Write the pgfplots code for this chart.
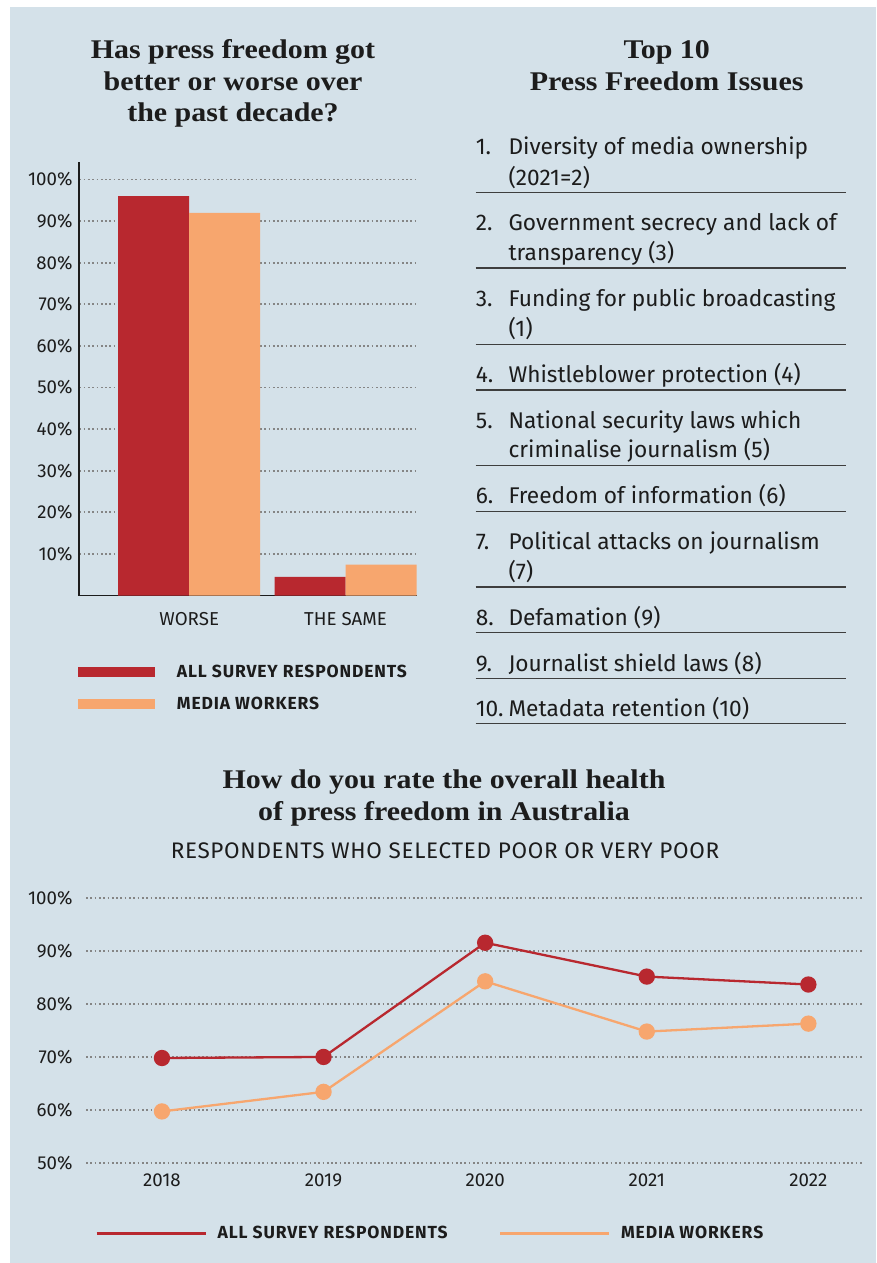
\documentclass[border=0pt]{standalone}
\usepackage{fontspec}
\setmainfont{Fira Sans}
\newfontfamily\titlefont{Liberation Serif}[FakeStretch=1.11]
\newfontfamily\legendface{Fira Sans}[LetterSpace=5]
\newfontfamily\subface{Fira Sans}[LetterSpace=3]
\usepackage{pgfplots}
\pgfplotsset{compat=1.18}
\definecolor{bg}{HTML}{D4E1E9}
\definecolor{barred}{HTML}{B8282F}
\definecolor{barorange}{HTML}{F7A66E}
\definecolor{ink}{HTML}{1C1C1C}
\definecolor{gridgray}{HTML}{858585}
\tikzset{griddot/.style={dash pattern=on 1.7pt off 2.6pt, line width=1.8pt, color=gridgray}}
\newcommand{\tickfont}{\fontsize{18.7}{22}\selectfont}
\newcommand{\listfont}{\fontsize{22.7}{27}\selectfont}
\newcommand{\legfont}{\legendface\fontsize{17.5}{20}\selectfont\bfseries}
\newcommand{\ttlfont}{\titlefont\bfseries\fontsize{27}{32}\selectfont}

\begin{document}
\begin{tikzpicture}
\fill[white] (0pt,0pt) rectangle (877pt,-1263pt);
\fill[bg] (10pt,-7pt) rectangle (876pt,-1263pt);

% titles
\node[anchor=base, text=ink] at (233pt,-58.3pt) {\ttlfont Has press freedom got};
\node[anchor=base, text=ink] at (233pt,-90pt) {\ttlfont better or worse over};
\node[anchor=base, text=ink] at (233pt,-121.7pt) {\ttlfont the past decade?};
\node[anchor=base, text=ink] at (666.7pt,-58.3pt) {\ttlfont Top 10};
\node[anchor=base, text=ink] at (666.7pt,-90pt) {\ttlfont Press Freedom Issues};

% top 10 list
\foreach \y/\n/\t in {
  154/1./Diversity of media ownership, 185//(2021=2),
  230/2./Government secrecy and lack of, 260//transparency (3),
  306.7/3./Funding for public broadcasting, 336.7//(1),
  382.3/4./Whistleblower protection (4),
  428.3/5./National security laws which, 457.3//criminalise journalism (5),
  503.3/6./Freedom of information (6),
  549/7./Political attacks on journalism, 579//(7),
  625/8./Defamation (9),
  671/9./Journalist shield laws (8),
  716/10./Metadata retention (10)}{
  \node[anchor=base west, inner sep=0pt, text=ink] at (475.7pt,-\y pt) {\listfont\n};
  \node[anchor=base west, inner sep=0pt, text=ink] at (508.3pt,-\y pt) {\listfont\t};
}
\foreach \y in {192.3,268,344.3,390,465.7,511.3,587,632.7,678.3,723.3}{
  \draw[line width=1.3pt, color=ink!85] (475.7pt,-\y pt) -- (846pt,-\y pt);
}

% bar chart
\begin{axis}[
  at={(79.3pt,-595.5pt)}, anchor=south west,
  scale only axis, width=337.4pt, height=433.8pt,
  ybar=0pt, bar width=71pt,
  xmin=-0.703, xmax=1.455, ymin=0, ymax=104.3,
  axis x line=bottom, axis y line=left,
  axis line style={-, line width=1.8pt, color=ink},
  xtick={0,1}, xticklabels={WORSE, THE SAME},
  ytick={10,20,...,100},
  /pgf/number format/assume math mode=true,
  yticklabel={\pgfmathprintnumber{\tick}\%},
  major tick length=0pt, tick style={draw=none},
  ymajorgrids, grid style={griddot},
  tick label style={font=\tickfont, text=ink},
  yticklabel style={anchor=east, inner sep=0pt, xshift=-6.6pt},
  xticklabel style={anchor=north, inner sep=0pt, yshift=-17pt},
  legend style={at={(-0.003,-0.160)}, anchor=north west, draw=none, fill=none,
    inner sep=0pt, column sep=22pt, row sep=18pt, font=\legfont,
    nodes={inner sep=0pt, text=ink}},
  legend cell align=left,
  legend image code/.code={\fill[#1] (0pt,-5.25pt) rectangle (76.4pt,5.25pt);},
]
\addplot[fill=barred, draw=none] coordinates {(0,96) (1,4.5)};
\addlegendentry{ALL SURVEY RESPONDENTS}
\addplot[fill=barorange, draw=none] coordinates {(0,92) (1,7.4)};
\addlegendentry{MEDIA WORKERS}
\end{axis}

% bottom titles
\node[anchor=base, text=ink] at (444pt,-788.3pt) {\ttlfont How do you rate the overall health};
\node[anchor=base, text=ink] at (444pt,-820pt) {\ttlfont of press freedom in Australia};
\node[anchor=base, text=ink] at (445pt,-858.3pt) {\subface\fontsize{22.5}{26}\selectfont RESPONDENTS WHO SELECTED POOR OR VERY POOR};

% line chart
\begin{axis}[
  at={(86pt,-1162.7pt)}, anchor=south west,
  scale only axis, width=775.7pt, height=264.4pt,
  xmin=2017.53, xmax=2022.33, ymin=50, ymax=100,
  axis line style={draw=none}, major tick length=0pt, tick style={draw=none},
  xtick={2018,2019,2020,2021,2022}, ytick={50,60,...,100},
  /pgf/number format/assume math mode=true,
  /pgf/number format/1000 sep={},
  yticklabel={\pgfmathprintnumber{\tick}\%},
  ymajorgrids, grid style={griddot},
  tick label style={font=\tickfont, text=ink},
  yticklabel style={anchor=east, inner sep=0pt, xshift=-13.3pt},
  xticklabel style={anchor=north, inner sep=0pt, yshift=-10.6pt},
  clip=false,
  legend columns=2,
  legend style={at={(0.0116,-0.267)}, anchor=west, draw=none, fill=none,
    inner sep=0pt, column sep=10.4pt, font=\legfont,
    nodes={inner sep=0pt, text=ink},
    /tikz/every even column/.append style={column sep=51pt}},
  legend image code/.code={\draw[#1, line width=3pt] (0pt,0pt) -- (109pt,0pt);},
]
\addplot[color=barred, line width=2.3pt, mark=*, mark size=7pt,
  mark options={draw=none, fill=barred}]
  coordinates {(2018,69.8) (2019,70) (2020,91.6) (2021,85.2) (2022,83.7)};
\addlegendentry{ALL SURVEY RESPONDENTS}
\addplot[color=barorange, line width=2.3pt, mark=*, mark size=7pt,
  mark options={draw=none, fill=barorange}]
  coordinates {(2018,59.7) (2019,63.4) (2020,84.3) (2021,74.8) (2022,76.3)};
\addlegendentry{MEDIA WORKERS}
\end{axis}

\pgfresetboundingbox
\useasboundingbox (0pt,0pt) rectangle (877pt,-1263pt);
\end{tikzpicture}
\end{document}
